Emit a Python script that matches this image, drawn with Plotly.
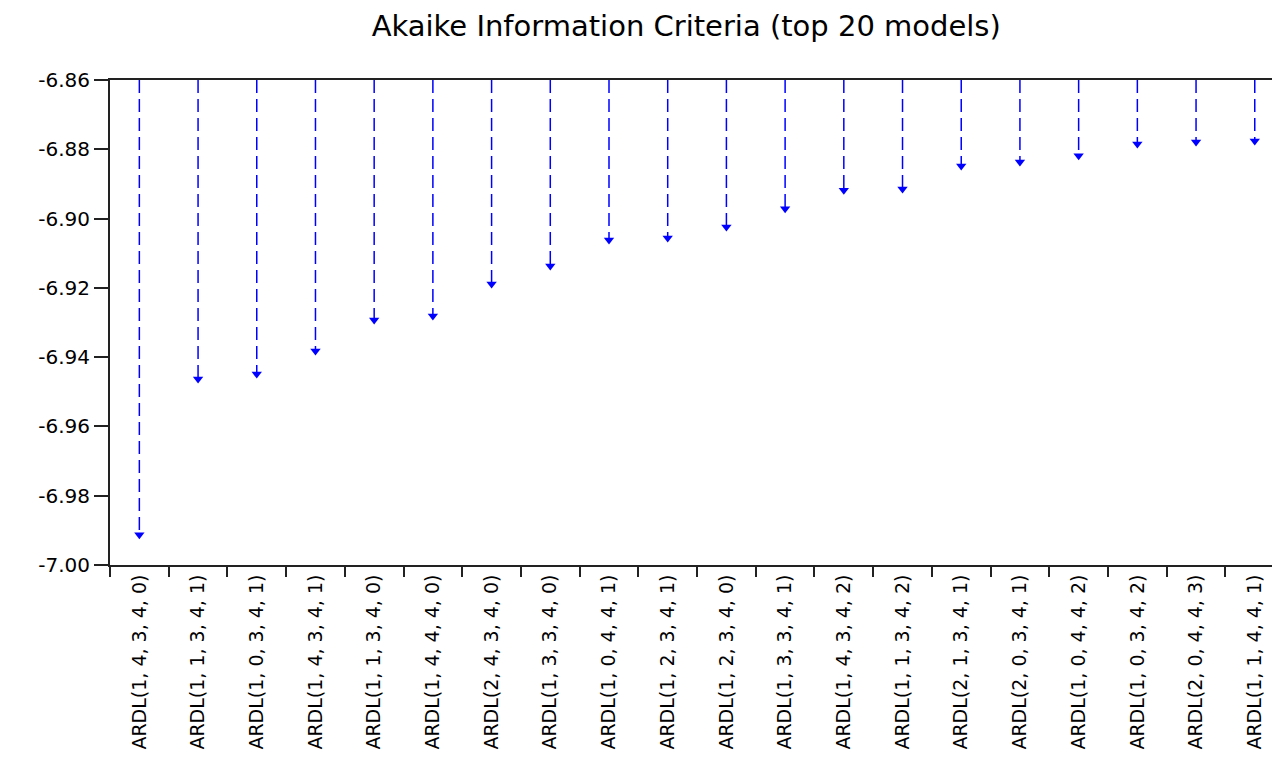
import plotly.graph_objects as go

models = [
    "ARDL(1, 4, 3, 4, 0)", "ARDL(1, 1, 3, 4, 1)", "ARDL(1, 0, 3, 4, 1)", "ARDL(1, 4, 3, 4, 1)",
    "ARDL(1, 1, 3, 4, 0)", "ARDL(1, 4, 4, 4, 0)", "ARDL(2, 4, 3, 4, 0)", "ARDL(1, 3, 3, 4, 0)",
    "ARDL(1, 0, 4, 4, 1)", "ARDL(1, 2, 3, 4, 1)", "ARDL(1, 2, 3, 4, 0)", "ARDL(1, 3, 3, 4, 1)",
    "ARDL(1, 4, 3, 4, 2)", "ARDL(1, 1, 3, 4, 2)", "ARDL(2, 1, 3, 4, 1)", "ARDL(2, 0, 3, 4, 1)",
    "ARDL(1, 0, 4, 4, 2)", "ARDL(1, 0, 3, 4, 2)", "ARDL(2, 0, 4, 4, 3)", "ARDL(1, 1, 4, 4, 1)",
]
aic = [
    -6.9913, -6.9463, -6.9449, -6.9382, -6.9293, -6.9281, -6.9189, -6.9137, -6.9062, -6.9056,
    -6.9024, -6.8972, -6.8918, -6.8915, -6.8848, -6.8837, -6.8819, -6.8785, -6.8779, -6.8776,
]
y_top = -6.86
y_ticks = [-7.00, -6.98, -6.96, -6.94, -6.92, -6.90, -6.88, -6.86]

stem_x, stem_y = [], []
for m, v in zip(models, aic):
    stem_x += [m, m, None]
    stem_y += [y_top, v, None]

fig = go.Figure()
fig.add_trace(go.Scatter(
    x=stem_x, y=stem_y, mode="lines",
    line=dict(color="#0000ff", width=1.5, dash="13px,6px"),
    hoverinfo="skip", showlegend=False,
))
fig.add_trace(go.Scatter(
    x=models, y=aic, mode="markers",
    marker=dict(symbol="triangle-down", size=9, color="#0000ff"),
    showlegend=False,
))

fig.update_layout(
    width=1272, height=761,
    margin=dict(l=102, r=0, t=72, b=204),
    paper_bgcolor="white", plot_bgcolor="white",
    font=dict(family="DejaVu Sans, Liberation Sans, sans-serif", color="black"),
    title=dict(text="Akaike Information Criteria (top 20 models)", x=0.4925, xref="paper",
               xanchor="center", y=0.976, yanchor="middle",
               font=dict(size=29, color="black")),
    xaxis=dict(
        type="category", categoryorder="array", categoryarray=models,
        range=[-0.5, 19.43],
        tickangle=-90, tickfont=dict(size=19, color="black"),
        ticks="outside", ticklen=10, tickcolor="#222", tickwidth=2,
        tickson="boundaries",
        showline=True, linecolor="#222", linewidth=2, mirror=True,
        showgrid=False, zeroline=False,
    ),
    yaxis=dict(
        range=[-7.00, -6.86], tickvals=y_ticks,
        ticktext=[f"{t:.2f}" for t in y_ticks],
        tickfont=dict(size=20, color="black"),
        ticks="outside", ticklen=14, tickcolor="#222", tickwidth=2,
        showline=True, linecolor="#222", linewidth=2,
        showgrid=False, zeroline=False,
    ),
)

fig.write_html("out.html")
